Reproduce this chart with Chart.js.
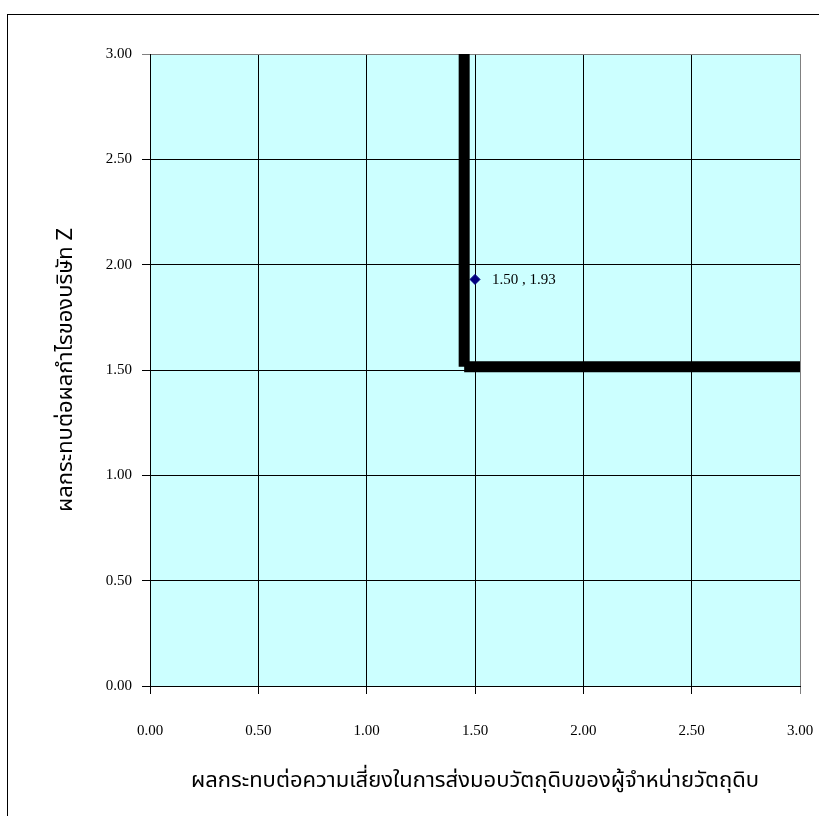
<!DOCTYPE html>
<html>
<head>
<meta charset="utf-8">
<script src="https://cdn.jsdelivr.net/npm/chart.js@4/dist/chart.umd.min.js"></script>
<style>
html,body{margin:0;padding:0;background:#fff;}
canvas{display:block;}
</style>
</head>
<body>
<canvas id="c" width="819" height="816"></canvas>
<script>
// ---- data ----
const xTitle = 'ผลกระทบต่อความเสี่ยงในการส่งมอบวัตถุดิบของผู้จำหน่ายวัตถุดิบ';
const yTitle = 'ผลกระทบต่อผลกำไรของบริษัท Z';
const axisMin = 0;
const axisMax = 3;
const axisStep = 0.5;
const verticalLineX = [1.45, 1.45];
const verticalLineY = [3.00, 1.515];
const horizontalLineX = [1.45, 3.00];
const horizontalLineY = [1.515, 1.515];
const pointX = [1.50];
const pointY = [1.93];
const pointLabels = ['1.50 , 1.93'];

const toPts = (xs, ys) => xs.map((x, i) => ({x: x, y: ys[i]}));

const serif = '"Liberation Serif", "Times New Roman", "DejaVu Serif", serif';
const thai = '"Noto Sans Thai", "Noto Serif Thai", "Noto Sans", "DejaVu Sans", sans-serif';

const frame = {
  id: 'frame',
  beforeDraw(chart) {
    const {ctx, chartArea: a} = chart;
    ctx.save();
    ctx.fillStyle = '#ffffff';
    ctx.fillRect(0, 0, chart.width, chart.height);
    ctx.strokeStyle = '#000000';
    ctx.lineWidth = 1;
    ctx.strokeRect(7.5, 14.5, 900, 900);
    ctx.fillStyle = '#CCFFFF';
    ctx.fillRect(a.left, a.top, a.right - a.left, a.bottom - a.top);
    ctx.restore();
  },
  afterDatasetsDraw(chart) {
    const {ctx} = chart;
    const meta = chart.getDatasetMeta(2);
    ctx.save();
    ctx.font = '15px ' + serif;
    ctx.fillStyle = '#000000';
    ctx.textAlign = 'left';
    ctx.textBaseline = 'middle';
    meta.data.forEach((el, i) => {
      ctx.fillText(pointLabels[i], el.x + 17, el.y + 1);
    });
    ctx.restore();
  }
};

const gridColor = (c) => (c.tick && c.tick.value === axisMax) ? '#808080' : '#000000';

new Chart(document.getElementById('c'), {
  type: 'scatter',
  data: {
    datasets: [
      {data: toPts(verticalLineX, verticalLineY), showLine: true, borderColor: '#000000', borderWidth: 11, borderCapStyle: 'butt', pointRadius: 0, pointHoverRadius: 0, clip: 8},
      {data: toPts(horizontalLineX, horizontalLineY), showLine: true, borderColor: '#000000', borderWidth: 11, borderCapStyle: 'butt', pointRadius: 0, pointHoverRadius: 0, clip: 8},
      {data: toPts(pointX, pointY), showLine: false, pointStyle: 'rectRot', pointRadius: 5, pointBackgroundColor: '#000080', pointBorderColor: '#000080', pointBorderWidth: 1}
    ]
  },
  options: {
    responsive: false,
    animation: false,
    events: [],
    layout: {padding: {left: 0, top: 54, right: 19, bottom: 0}},
    plugins: {legend: {display: false}, tooltip: {enabled: false}, title: {display: false}},
    scales: {
      x: {
        type: 'linear', min: axisMin, max: axisMax,
        afterFit(s) { s.height = 130; s.paddingLeft = 0; s.paddingRight = 0; },
        ticks: {stepSize: axisStep, color: '#000', font: {family: serif, size: 15}, padding: 28, maxRotation: 0, autoSkip: false, callback: v => Number(v).toFixed(2)},
        grid: {color: gridColor, lineWidth: 1, drawTicks: true, tickLength: 8},
        border: {color: '#000000', width: 1},
        title: {display: true, text: xTitle, color: '#000', font: {family: thai, size: 22}, padding: {top: 0, bottom: 20}}
      },
      y: {
        type: 'linear', min: axisMin, max: axisMax,
        afterFit(s) { s.width = 150; s.paddingTop = 0; s.paddingBottom = 0; },
        ticks: {stepSize: axisStep, color: '#000', font: {family: serif, size: 15}, padding: 10, callback: v => Number(v).toFixed(2)},
        grid: {color: gridColor, lineWidth: 1, drawTicks: true, tickLength: 8},
        border: {color: '#000000', width: 1},
        title: {display: true, text: yTitle, color: '#000', font: {family: thai, size: 22}, padding: {top: 54, bottom: 0}}
      }
    }
  },
  plugins: [frame]
});
</script>
</body>
</html>
